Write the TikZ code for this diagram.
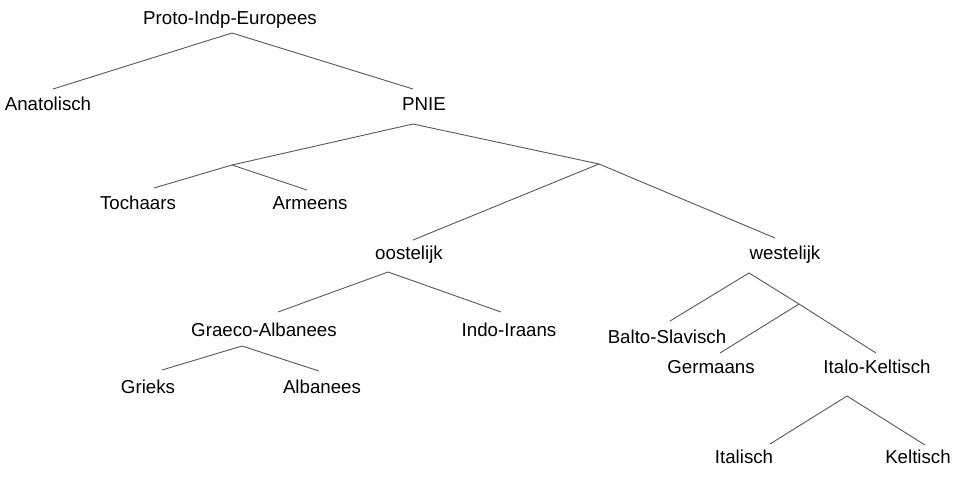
\documentclass[tikz,border=0pt]{standalone}
\usepackage{fontspec}
\setmainfont{Liberation Sans}
\begin{document}
\begin{tikzpicture}[x=1pt,y=-1pt,
  lbl/.style={anchor=base,inner sep=0pt,font=\fontsize{18.7}{22}\selectfont},
  edge/.style={draw=black!65,line width=0.9pt}]
\useasboundingbox[fill=white] (0,0) rectangle (960,481);
% labels
\node[lbl] (pie) at (230,25) {Proto-Indp-Europees};
\node[lbl] (ana) at (48,111) {Anatolisch};
\node[lbl] (pnie) at (424,111) {PNIE};
\node[lbl] (toc) at (138,209) {Tochaars};
\node[lbl] (arm) at (310,209) {Armeens};
\node[lbl] (oos) at (409,259) {oostelijk};
\node[lbl] (wes) at (785,259) {westelijk};
\node[lbl] (gra) at (264,336) {Graeco-Albanees};
\node[lbl] (ind) at (509,336) {Indo-Iraans};
\node[lbl] (gri) at (148,393) {Grieks};
\node[lbl] (alb) at (322,393) {Albanees};
\node[lbl] (bal) at (667,343) {Balto-Slavisch};
\node[lbl] (ger) at (711,373) {Germaans};
\node[lbl] (itk) at (877,373) {Italo-Keltisch};
\node[lbl] (ita) at (744,463) {Italisch};
\node[lbl] (kel) at (918,463) {Keltisch};
% connector points
\coordinate (pieB) at (232,33);
\coordinate (anaT) at (53,89);
\coordinate (pnieT) at (413,89);
\coordinate (pnieB) at (413,124);
\coordinate (jTA) at (232,165);
\coordinate (jOW) at (599,164);
\coordinate (tocT) at (154,188);
\coordinate (armT) at (307,190);
\coordinate (oosT) at (413,240);
\coordinate (wesT) at (775,238);
\coordinate (oosB) at (388,272);
\coordinate (graT) at (278,312);
\coordinate (indT) at (501,312);
\coordinate (graB) at (242,346);
\coordinate (griT) at (162,370);
\coordinate (albT) at (319,371);
\coordinate (wesB) at (749,273);
\coordinate (balT) at (670,321);
\coordinate (jGI) at (799,304);
\coordinate (gerT) at (720,353);
\coordinate (itkT) at (876,353);
\coordinate (itkB) at (847,396);
\coordinate (itaT) at (770,444);
\coordinate (kelT) at (925,445);
% connectors
\draw[edge] (anaT) -- (pieB) -- (pnieT);
\draw[edge] (jTA) -- (pnieB) -- (jOW);
\draw[edge] (tocT) -- (jTA) -- (armT);
\draw[edge] (oosT) -- (jOW) -- (wesT);
\draw[edge] (graT) -- (oosB) -- (indT);
\draw[edge] (griT) -- (graB) -- (albT);
\draw[edge] (balT) -- (wesB) -- (jGI) -- (itkT);
\draw[edge] (jGI) -- (gerT);
\draw[edge] (itaT) -- (itkB) -- (kelT);
\end{tikzpicture}
\end{document}
